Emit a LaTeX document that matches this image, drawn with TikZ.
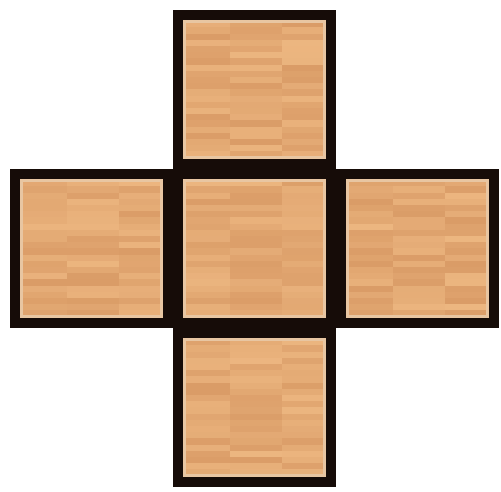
\documentclass[tikz,border=0pt]{standalone}
\usepackage{xcolor}
\usepackage{tikz}
\usetikzlibrary{positioning}
\definecolor{wooddark}{RGB}{200,130,78}
\definecolor{woodlight}{RGB}{236,182,128}
\definecolor{woodrim}{RGB}{232,198,162}
\definecolor{borderink}{RGB}{22,12,8}
\tikzset{
  woodbox/.style={draw=borderink, line width=10pt, fill=woodlight,
    minimum width=153pt, minimum height=149pt, inner sep=0pt,
    path picture={
      \foreach \c in {0,1,2}{
        \foreach \r in {0,...,24}{
          \pgfmathsetmacro{\tone}{50+50*rnd}
          \fill[woodlight!\tone!wooddark]
            ([xshift=\c*52pt, yshift=-\r*6.2pt]path picture bounding box.north west)
            rectangle ([xshift=\c*52pt+52pt, yshift=-\r*6.2pt-6.2pt]path picture bounding box.north west);
        }
      }
      \draw[woodrim, line width=16pt] (path picture bounding box.south west)
        rectangle (path picture bounding box.north east);
    }}
}

\begin{document}
\begin{tikzpicture}[x=1pt,y=-1pt]
    \useasboundingbox (0,0) rectangle (501,492);
    \pgfmathsetseed{11}
    \node[woodbox] (mid) at (254,248.5) {};
    \node[woodbox, above=0pt of mid] (top) {};
    \node[woodbox, below=0pt of mid] (bottom) {};
    \node[woodbox, left=0pt of mid] (left) {};
    \node[woodbox, right=0pt of mid] (right) {};
\end{tikzpicture}
\end{document}
